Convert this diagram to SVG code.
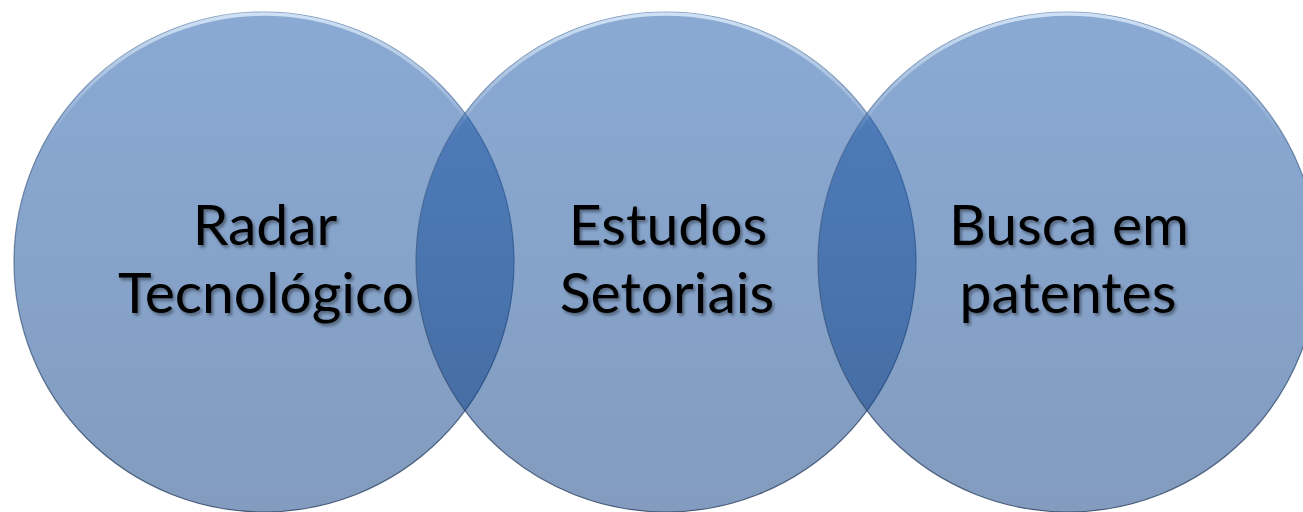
<svg xmlns="http://www.w3.org/2000/svg" width="1303" height="512" viewBox="0 0 1303 512">
  <defs>
    <linearGradient id="fillG" x1="0" y1="0" x2="0" y2="1">
      <stop offset="0" stop-color="#1555a9"/>
      <stop offset="1" stop-color="#07397f"/>
    </linearGradient>
    <linearGradient id="hiG" x1="0" y1="0" x2="0" y2="1">
      <stop offset="0" stop-color="#e6f3ff" stop-opacity="0.75"/>
      <stop offset="0.25" stop-color="#e6f3ff" stop-opacity="0"/>
      <stop offset="1" stop-color="#e6f3ff" stop-opacity="0"/>
    </linearGradient>
    <linearGradient id="edgeG" x1="0" y1="0" x2="0" y2="1">
      <stop offset="0" stop-color="#4a6f9e" stop-opacity="0.6"/>
      <stop offset="1" stop-color="#2a3f5e" stop-opacity="0.8"/>
    </linearGradient>
    <filter id="txtShadow" x="-10%" y="-30%" width="120%" height="160%">
      <feDropShadow dx="2" dy="2.5" stdDeviation="1.6" flood-color="#000" flood-opacity="0.4"/>
    </filter>
  </defs>
  <style>
    .disc { fill: url(#fillG); fill-opacity: 0.5; stroke: url(#edgeG); stroke-width: 1.2; }
    .hi { fill: none; stroke: url(#hiG); stroke-width: 3.5; }
    .lbl { font-family: Lato, "Liberation Sans", sans-serif; font-size: 57px; fill: #000; text-anchor: middle; filter: url(#txtShadow); }
  </style>
  <rect width="1303" height="512" fill="#ffffff"/>
  <g id="shapes">
    <g id="circle-radar">
      <circle class="disc" cx="264" cy="262" r="250"/>
      <circle class="hi" cx="264" cy="262" r="248"/>
    </g>
    <g id="circle-estudos">
      <circle class="disc" cx="666" cy="262" r="250"/>
      <circle class="hi" cx="666" cy="262" r="248"/>
    </g>
    <g id="circle-busca">
      <circle class="disc" cx="1068" cy="262" r="250"/>
      <circle class="hi" cx="1068" cy="262" r="248"/>
    </g>
  </g>
  <g id="labels">
    <g id="node-radar">
      <text class="lbl" x="265" y="245">Radar</text>
      <text class="lbl" x="266" y="313">Tecnológico</text>
    </g>
    <g id="node-estudos">
      <text class="lbl" x="668" y="245">Estudos</text>
      <text class="lbl" x="667" y="313">Setoriais</text>
    </g>
    <g id="node-busca">
      <text class="lbl" x="1069" y="245">Busca em</text>
      <text class="lbl" x="1068" y="313">patentes</text>
    </g>
  </g>
  <g id="connectors"/>
</svg>
